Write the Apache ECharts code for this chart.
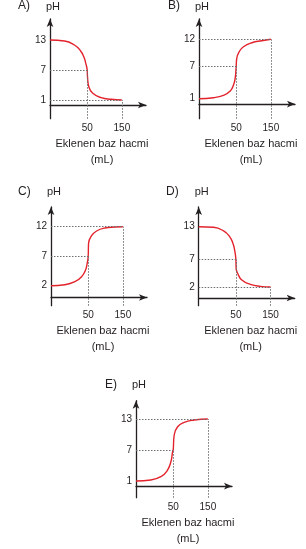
<!DOCTYPE html>
<html>
<head>
<meta charset="utf-8">
<script src="https://cdn.jsdelivr.net/npm/echarts@6/dist/echarts.min.js"></script>
<style>
  html, body { margin: 0; padding: 0; background: #fff; }
  #chart { width: 306px; height: 549px; }
</style>
</head>
<body>
<div id="chart"></div>
<script>
// titration curves, five answer options
const panelNames = ['A)', 'B)', 'C)', 'D)', 'E)']
const pHTicks = [[13, 7, 1], [12, 7, 1], [12, 7, 2], [13, 7, 2], [13, 7, 1]]
const volumeTicks = [50, 150]
const xTitle = 'Eklenen baz hacmi'
const xUnit = '(mL)'
const yTitle = 'pH'

// added base volume (mL) / pH
const volA = [15.4, 24.4, 33.4, 40.4, 44.9, 47.8, 50, 50.5, 52.6, 59.7, 77.9, 106.9, 150]
const phA = [13, 12.8, 12.0, 10.86, 9.66, 8.34, 7, 5.66, 3.66, 2.34, 1.46, 1.14, 1]
const volB = [15.4, 24.4, 33.4, 41.4, 45.9, 48.4, 50, 50.9, 55.0, 63.0, 82.0, 112.5, 150]
const phB = [1, 1.19, 1.63, 2.43, 3.54, 4.78, 7, 8.48, 9.70, 10.63, 11.37, 11.74, 12]
const volC = [15.4, 23.9, 32.8, 40.6, 46.0, 48.4, 50, 50.6, 55.7, 65.2, 84.9, 116.5, 150]
const phC = [2, 2.17, 2.68, 3.53, 4.66, 5.80, 7, 9.19, 10.47, 11.27, 11.78, 11.95, 12]
const volD = [15.4, 24.7, 33.9, 41.0, 45.5, 48.0, 50, 50.4, 52.8, 60.4, 78.9, 108.3, 150]
const phD = [13, 12.89, 12.22, 11.18, 9.97, 8.75, 7, 5.4, 4.5, 3.27, 2.49, 2.12, 2]
const volE = [15.4, 24.7, 33.9, 41.0, 46.5, 49.1, 50, 51.6, 57.5, 70.8, 97.3, 150]
const phE = [1, 1.19, 1.83, 2.93, 4.73, 6.67, 7, 9.9, 11.5, 12.35, 12.8, 13]

const vols = [volA, volB, volC, volD, volE]
const phs = [phA, phB, phC, phD, phE]

// the drawing is not to scale: log x axis fits the 50 / 150 label spots
const X_MIN = 15.4
const X_MAX = 322

const layout = [
  { ox: 50, oy: 118.7, tip: 15, tx: 18, ty: 6, yMin: -2.74, yMax: 17.2 },
  { ox: 199, oy: 118.7, tip: 15, tx: 168, ty: 6, yMin: -2.7, yMax: 15.76 },
  { ox: 51, oy: 305.7, tip: 203, tx: 18, ty: 191.7, yMin: -1.39, yMax: 15.34 },
  { ox: 198.7, oy: 305.7, tip: 203, tx: 166, ty: 191.5, yMin: -1.41, yMax: 16.59 },
  { ox: 136, oy: 497.7, tip: 396.7, tx: 105, ty: 384.3, yMin: -2.23, yMax: 16.54 }
]

const ink = '#231f20'
const font = 'Liberation Sans, Arial, Helvetica, sans-serif'
const axisLine = {
  show: true,
  lineStyle: { color: ink, width: 1.3 },
  symbol: ['none', 'arrow'],
  symbolSize: [5, 8]
}

const grid = [], xAxis = [], yAxis = [], series = [], graphic = []

layout.forEach((p, i) => {
  grid.push({ left: p.ox, top: p.tip + 4, width: 96, height: p.oy - p.tip - 4 })

  xAxis.push({
    type: 'log', logBase: 10, gridIndex: i, min: X_MIN, max: X_MAX,
    axisLine: axisLine,
    axisTick: { show: false },
    splitLine: { show: false },
    minorTick: { show: false },
    axisLabel: { customValues: volumeTicks, fontSize: 10, color: ink, fontFamily: font, margin: 5 }
  })

  yAxis.push({
    type: 'value', gridIndex: i, min: p.yMin, max: p.yMax,
    axisLine: axisLine,
    axisTick: { show: false },
    splitLine: { show: false },
    axisLabel: { customValues: pHTicks[i], fontSize: 10, color: ink, fontFamily: font, margin: 4 }
  })

  const v = vols[i], ph = phs[i]
  const endPh = ph[ph.length - 1]
  const mid = 7
  series.push({
    type: 'line',
    xAxisIndex: i, yAxisIndex: i,
    data: v.map((x, k) => [x, ph[k]]),
    smooth: 0.5,
    showSymbol: false,
    silent: true,
    lineStyle: { color: '#e3232c', width: 1.4 },
    markLine: {
      silent: true,
      symbol: 'none',
      label: { show: false },
      lineStyle: { type: [1.5, 1.5], color: '#6d6e71', width: 1 },
      data: [
        [{ coord: [X_MIN, mid] }, { coord: [volumeTicks[0], mid] }],
        [{ coord: [X_MIN, endPh] }, { coord: [volumeTicks[1], endPh] }],
        [{ coord: [volumeTicks[0], p.yMin] }, { coord: [volumeTicks[0], mid] }],
        [{ coord: [volumeTicks[1], p.yMin] }, { coord: [volumeTicks[1], endPh] }]
      ]
    }
  })

  const txt = (text, x, y, size, align) => ({
    type: 'text', x: x, y: y, silent: true,
    style: {
      text: text, fill: ink, font: size + 'px ' + font,
      align: align, textAlign: align,
      verticalAlign: 'middle', textVerticalAlign: 'middle'
    }
  })
  graphic.push(txt(panelNames[i], p.tx, p.ty, 12, 'left'))
  graphic.push(txt(yTitle, p.ox + 3, p.ty + 0.5, 11, 'center'))
  graphic.push(txt(xTitle, p.ox + 52, p.oy + 25, 11, 'center'))
  graphic.push(txt(xUnit, p.ox + 52, p.oy + 41.5, 11, 'center'))
})

const chart = echarts.init(document.getElementById('chart'))
chart.setOption({
  animation: false,
  backgroundColor: '#fff',
  grid, xAxis, yAxis, series,
  graphic: { elements: graphic }
})
</script>
</body>
</html>
